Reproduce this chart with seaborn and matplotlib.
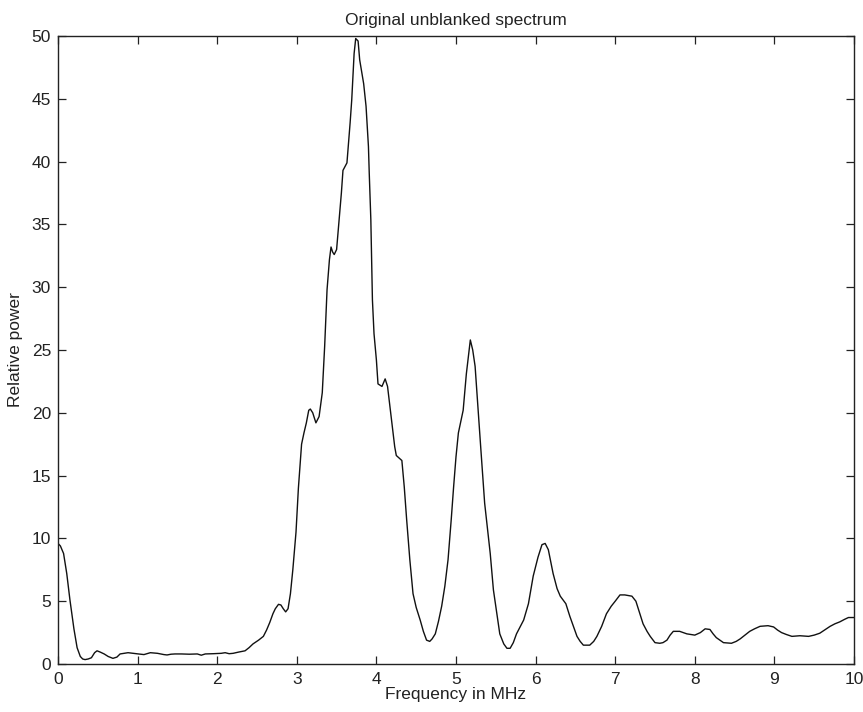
import matplotlib
matplotlib.use("Agg")
import matplotlib.pyplot as plt
import seaborn as sns
import pandas as pd

# Power spectrum samples (frequency in MHz, relative power)
freq_mhz = [
    0.00, 0.03, 0.07, 0.11, 0.15, 0.20, 0.24, 0.28, 0.31, 0.34, 0.38, 0.42, 0.46, 0.49,
    0.53, 0.58, 0.63, 0.69, 0.74, 0.78, 0.83, 0.88, 0.94, 1.01, 1.08, 1.16, 1.25, 1.33,
    1.37, 1.42, 1.47, 1.55, 1.65, 1.75, 1.80, 1.85, 1.95, 2.05, 2.10, 2.15, 2.20, 2.27,
    2.35, 2.40, 2.45, 2.52, 2.58, 2.62, 2.66, 2.70, 2.73, 2.77, 2.80, 2.83, 2.86, 2.89,
    2.92, 2.95, 2.99, 3.02, 3.06, 3.09, 3.12, 3.15, 3.17, 3.20, 3.24, 3.28, 3.32, 3.35,
    3.38, 3.41, 3.43, 3.45, 3.47, 3.50, 3.53, 3.56, 3.58, 3.63, 3.65, 3.67, 3.69, 3.72,
    3.74, 3.77, 3.79, 3.84, 3.87, 3.90, 3.91, 3.93, 3.94, 3.95, 3.97, 4.00, 4.02, 4.07,
    4.11, 4.14, 4.17, 4.20, 4.23, 4.25, 4.32, 4.35, 4.38, 4.42, 4.46, 4.50, 4.55, 4.59,
    4.63, 4.67, 4.70, 4.74, 4.78, 4.82, 4.86, 4.90, 4.94, 4.97, 5.00, 5.03, 5.09, 5.13,
    5.18, 5.21, 5.24, 5.28, 5.31, 5.36, 5.40, 5.43, 5.47, 5.50, 5.55, 5.60, 5.64, 5.68,
    5.72, 5.76, 5.85, 5.91, 5.97, 6.03, 6.08, 6.12, 6.16, 6.22, 6.27, 6.31, 6.38, 6.43,
    6.48, 6.52, 6.56, 6.60, 6.68, 6.73, 6.77, 6.83, 6.89, 6.95, 7.00, 7.06, 7.12, 7.21,
    7.26, 7.30, 7.35, 7.40, 7.44, 7.50, 7.56, 7.60, 7.65, 7.69, 7.73, 7.81, 7.90, 8.00,
    8.07, 8.13, 8.19, 8.23, 8.27, 8.36, 8.46, 8.52, 8.57, 8.63, 8.69, 8.75, 8.82, 8.92,
    8.99, 9.04, 9.09, 9.15, 9.22, 9.32, 9.43, 9.50, 9.57, 9.63, 9.70, 9.76, 9.82, 9.88,
    9.93, 10.00,
]
rel_power = [
    9.6, 9.4, 8.8, 7.2, 5.1, 2.8, 1.3, 0.6, 0.4, 0.35, 0.4, 0.5, 0.9, 1.05,
    0.95, 0.8, 0.6, 0.45, 0.55, 0.8, 0.85, 0.9, 0.85, 0.8, 0.75, 0.9, 0.85, 0.75,
    0.72, 0.78, 0.8, 0.8, 0.78, 0.8, 0.7, 0.8, 0.82, 0.85, 0.9, 0.82, 0.85, 0.95,
    1.05, 1.3, 1.6, 1.9, 2.2, 2.7, 3.3, 4.0, 4.4, 4.75, 4.7, 4.4, 4.15, 4.4,
    5.6, 7.5, 10.5, 14.0, 17.5, 18.4, 19.2, 20.2, 20.3, 20.0, 19.2, 19.7, 21.6, 25.3,
    29.8, 32.2, 33.2, 32.8, 32.6, 33.0, 35.3, 37.5, 39.3, 39.9, 41.5, 43.1, 44.9, 48.6,
    49.8, 49.6, 48.1, 46.2, 44.4, 41.2, 39.1, 35.4, 32.2, 29.0, 26.3, 24.2, 22.3, 22.1,
    22.7, 22.1, 20.5, 18.9, 17.3, 16.6, 16.2, 14.1, 11.5, 8.3, 5.6, 4.5, 3.5, 2.6,
    1.9, 1.8, 2.0, 2.4, 3.4, 4.6, 6.2, 8.3, 11.5, 14.1, 16.5, 18.4, 20.2, 23.1,
    25.8, 25.0, 23.7, 20.0, 17.3, 12.8, 10.5, 8.8, 5.9, 4.6, 2.4, 1.6, 1.25, 1.25,
    1.7, 2.4, 3.5, 4.8, 7.0, 8.5, 9.5, 9.6, 9.1, 7.2, 6.0, 5.4, 4.8, 3.8,
    2.9, 2.2, 1.8, 1.5, 1.5, 1.8, 2.2, 3.0, 4.0, 4.6, 5.0, 5.5, 5.5, 5.4,
    5.0, 4.2, 3.2, 2.6, 2.2, 1.7, 1.65, 1.7, 1.9, 2.3, 2.6, 2.6, 2.4, 2.3,
    2.5, 2.8, 2.75, 2.4, 2.1, 1.7, 1.65, 1.8, 2.0, 2.3, 2.6, 2.8, 3.0, 3.05,
    2.95, 2.7, 2.5, 2.35, 2.2, 2.25, 2.2, 2.3, 2.45, 2.7, 3.0, 3.2, 3.35, 3.55,
    3.7, 3.7,
]

x_ticks = [0, 1, 2, 3, 4, 5, 6, 7, 8, 9, 10]
y_ticks = [0, 5, 10, 15, 20, 25, 30, 35, 40, 45, 50]

sns.set_style("ticks")
plt.rcParams["font.family"] = ["Liberation Sans", "DejaVu Sans"]
plt.rcParams["xtick.direction"] = "in"
plt.rcParams["ytick.direction"] = "in"

df = pd.DataFrame({"Frequency in MHz": freq_mhz, "Relative power": rel_power})

fig = plt.figure(figsize=(8.63, 7.12), dpi=100)
ax = fig.add_axes([58 / 863, 1 - 664 / 712, (854 - 58) / 863, (664 - 36) / 712])

sns.lineplot(data=df, x="Frequency in MHz", y="Relative power", ax=ax,
             color="#111111", linewidth=1.0, estimator=None, sort=False)

ax.set_xlim(0, 10)
ax.set_ylim(0, 50)
ax.set_xticks(x_ticks)
ax.set_yticks(y_ticks)
ax.tick_params(axis="both", which="both", direction="in", length=6, width=0.9,
               top=True, right=True, labelsize=12.5, colors="#222222")
ax.tick_params(axis="x", pad=6)
ax.tick_params(axis="y", pad=5)
for side in ["left", "right", "top", "bottom"]:
    ax.spines[side].set_visible(True)
    ax.spines[side].set_linewidth(1.0)
    ax.spines[side].set_color("#222222")

ax.set_xlabel("Frequency in MHz", fontsize=12.5, color="#222222", labelpad=0)
ax.set_ylabel("Relative power", fontsize=12.5, color="#222222", labelpad=6)
ax.set_title("Original unblanked spectrum", fontsize=12.5, color="#222222", pad=8)

fig.savefig("out.png", dpi=100, facecolor="white")
